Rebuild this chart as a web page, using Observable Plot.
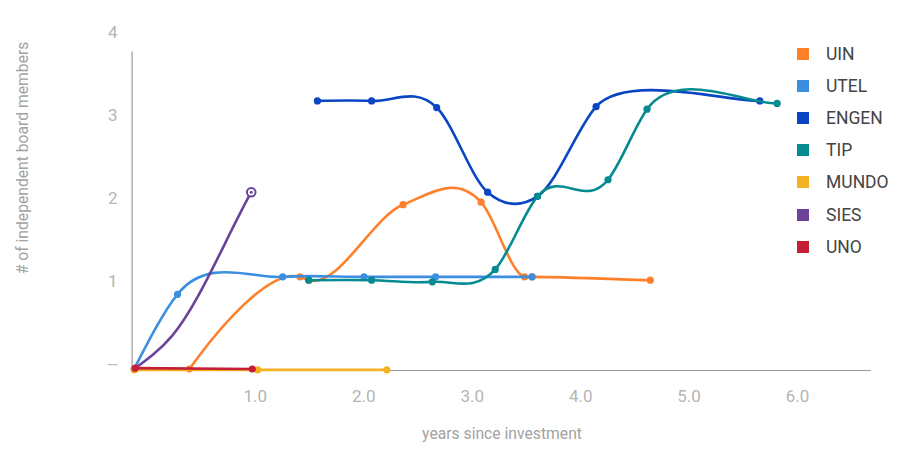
<!DOCTYPE html>
<html><head><meta charset="utf-8">
<script src="https://cdn.jsdelivr.net/npm/d3@7"></script>
<script src="https://cdn.jsdelivr.net/npm/@observablehq/plot@0.6"></script>
<style>
body{margin:0;background:#fff;font-family:Roboto,"Noto Sans",sans-serif;}
#wrap{position:relative;width:911px;height:457px;overflow:hidden;}
#legend{position:absolute;left:797px;top:38px;}
.item{display:flex;align-items:center;height:32.1px;font-size:17.5px;color:#444;font-family:Roboto,sans-serif;}
.sw{width:12px;height:12px;margin-right:17px;flex:none;}
</style></head><body>
<div id="wrap"><div id="chart"></div><div id="legend"></div></div>
<script>
// ---- data ----
const seriesNames = ["UIN","UTEL","ENGEN","TIP","MUNDO","SIES","UNO"];
const seriesColors = ["#ff7f2a","#3b8ee0","#0a45c4","#048a91","#f4b223","#6b449a","#c41f35"];
const uinX = [0.51, 1.53, 1.61, 2.48, 3.20, 3.60, 3.67, 4.76];
const uinY = [0, 1.11, 1.07, 1.98, 2.01, 1.11, 1.11, 1.07];
const utelX = [0, 0.40, 1.37, 2.12, 2.78, 3.67];
const utelY = [0, 0.90, 1.11, 1.11, 1.11, 1.11];
const engenX = [1.69, 2.19, 2.79, 3.26, 3.72, 4.26, 5.77];
const engenY = [3.23, 3.23, 3.15, 2.13, 2.08, 3.16, 3.23];
const tipX = [1.61, 2.19, 2.75, 3.33, 3.72, 4.37, 4.73, 5.93];
const tipY = [1.07, 1.07, 1.05, 1.20, 2.08, 2.28, 3.13, 3.20];
const mundoX = [0, 1.14, 2.33];
const mundoY = [-0.01, -0.01, -0.01];
const siesX = [0, 0.35, 1.08];
const siesY = [0, 0.40, 2.13];
const unoX = [0.01, 1.09];
const unoY = [0.01, 0];
const xTicks = [1, 2, 3, 4, 5, 6];
const yTicks = [0, 1, 2, 3, 4];
const xTitle = "years since investment";
const yTitle = "# of independent board members";

const seriesX = [uinX, utelX, engenX, tipX, mundoX, siesX, unoX];
const seriesY = [uinY, utelY, engenY, tipY, mundoY, siesY, unoY];
const tables = seriesNames.map((name, i) => seriesX[i].map((x, j) => ({series: name, x, y: seriesY[i][j], last: j === seriesX[i].length - 1})));

// smooth "function" curve: cubic Hermite with three-point slopes, handle length capped
function functionCurve(context) {
  const CAP = 30;
  let pts;
  return {
    areaStart() {}, areaEnd() {},
    lineStart() { pts = []; },
    point(x, y) { pts.push([+x, +y]); },
    lineEnd() {
      const n = pts.length; if (!n) return;
      context.moveTo(pts[0][0], pts[0][1]);
      if (n === 1) return;
      if (n === 2) { context.lineTo(pts[1][0], pts[1][1]); return; }
      const m = new Array(n);
      for (let i = 1; i < n - 1; i++) {
        const h0 = pts[i][0] - pts[i-1][0], h1 = pts[i+1][0] - pts[i][0];
        const s0 = (pts[i][1] - pts[i-1][1]) / h0, s1 = (pts[i+1][1] - pts[i][1]) / h1;
        m[i] = (s0 * h1 + s1 * h0) / (h0 + h1);
      }
      const sA = (pts[1][1] - pts[0][1]) / (pts[1][0] - pts[0][0]);
      m[0] = (3 * sA - m[1]) / 2;
      m[n-1] = (pts[n-1][1] - pts[n-2][1]) / (pts[n-1][0] - pts[n-2][0]);
      for (let i = 0; i < n - 1; i++) {
        const dx = Math.min((pts[i+1][0] - pts[i][0]) / 3, CAP);
        context.bezierCurveTo(pts[i][0] + dx, pts[i][1] + dx * m[i], pts[i+1][0] - dx, pts[i+1][1] - dx * m[i+1], pts[i+1][0], pts[i+1][1]);
      }
    }
  };
}

const marks = [
  Plot.ruleY([0], {stroke: "#9a9a9a", strokeWidth: 1.2, dy: 1.5}),
  Plot.ruleX([0], {y1: 0, y2: 3.82, stroke: "#9a9a9a", strokeWidth: 1.2, dx: -2}),
  Plot.axisX({ticks: xTicks, tickSize: 0, tickPadding: 21, textAnchor: "start", dx: 1, tickFormat: d => d.toFixed(1), fill: "#b5b5b5", fontSize: 17, label: null}),
  Plot.axisY({ticks: yTicks, tickSize: 0, tickPadding: 15, dy: -4, tickFormat: d => d === 0 ? "--" : String(d), fill: "#b5b5b5", fontSize: 17, label: null}),
  Plot.text([xTitle], {frameAnchor: "bottom", dy: 64.5, fill: "#a2a2a2", fontSize: 15.7, lineAnchor: "middle"}),
  Plot.text([yTitle], {frameAnchor: "top-left", dx: -109.5, dy: 121, rotate: -90, fill: "#a2a2a2", fontSize: 15.7, textAnchor: "middle", lineAnchor: "middle"})
];
tables.forEach((tbl, i) => {
  const c = seriesColors[i];
  marks.push(Plot.line(tbl, {x: "x", y: "y", stroke: c, strokeWidth: 2.6, curve: functionCurve}));
  if (seriesNames[i] === "SIES") {
    const lastPt = tbl.filter(d => d.last);
    marks.push(Plot.dot(lastPt, {x: "x", y: "y", r: 4.3, fill: "white", stroke: c, strokeWidth: 2}));
    marks.push(Plot.dot(lastPt, {x: "x", y: "y", r: 1.5, fill: c}));
  } else {
    marks.push(Plot.dot(tbl, {x: "x", y: "y", r: 3.6, fill: c}));
  }
});

const chart = Plot.plot({
  width: 911, height: 457,
  marginLeft: 132, marginRight: 40, marginTop: 36.5, marginBottom: 88.5,
  style: {fontFamily: "Roboto, sans-serif", background: "white"},
  x: {domain: [-0.015, 6.8]},
  y: {domain: [0, 4]},
  marks
});
document.getElementById("chart").appendChild(chart);

const legend = document.getElementById("legend");
seriesNames.forEach((name, i) => {
  const it = document.createElement("div"); it.className = "item";
  const sw = document.createElement("span"); sw.className = "sw"; sw.style.background = seriesColors[i];
  const tx = document.createElement("span"); tx.textContent = name;
  it.appendChild(sw); it.appendChild(tx); legend.appendChild(it);
});
</script></body></html>
